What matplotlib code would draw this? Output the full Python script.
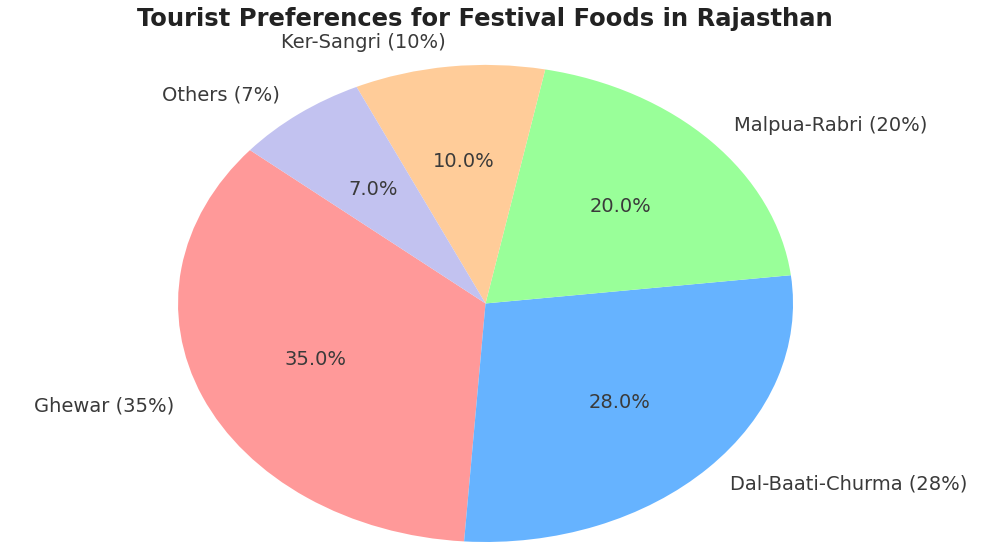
import matplotlib
matplotlib.use("Agg")
import matplotlib.pyplot as plt

foods = ["Ghewar", "Dal-Baati-Churma", "Malpua-Rabri", "Ker-Sangri", "Others"]
shares = [35, 28, 20, 10, 7]
colors = ["#ff9999", "#66b3ff", "#99ff99", "#ffcc99", "#c2c2f0"]
labels = [f"{f} ({s}%)" for f, s in zip(foods, shares)]

fig = plt.figure(figsize=(10.07, 5.44), dpi=100)
ax = fig.add_axes([0.1768, 0.0037, 0.6107, 0.877])
wedges, texts, autotexts = ax.pie(shares, labels=labels, colors=colors, autopct="%1.1f%%",
                                  startangle=140, labeldistance=1.1, pctdistance=0.6,
                                  textprops=dict(fontsize=14, color="#3a3a3a"))
ax.set_aspect("auto")
ax.set_xlim(-1, 1)
ax.set_ylim(-1, 1)
for t in texts + autotexts:
    t.set_clip_on(False)
fig.text(0.482, 0.965, "Tourist Preferences for Festival Foods in Rajasthan",
         ha="center", va="center", fontsize=17.5, fontweight="bold", color="#222222")
fig.savefig("out.png", dpi=100)
